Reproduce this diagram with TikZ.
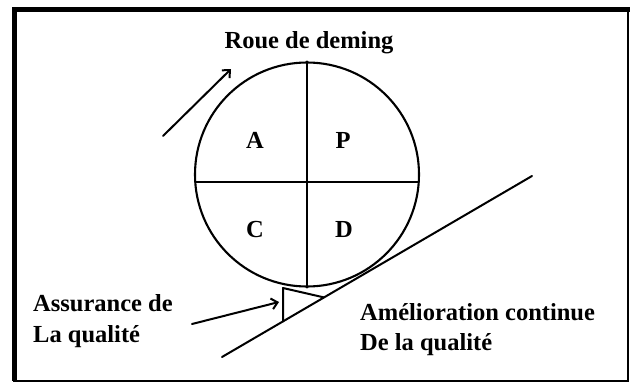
\documentclass[tikz,border=0pt]{standalone}
\usepackage{fontspec}
\setmainfont{Liberation Serif}
\usetikzlibrary{arrows.meta}
\begin{document}
\begin{tikzpicture}[x=1pt,y=-1pt,
  lbl/.style={font=\fontsize{24.5}{30}\selectfont\bfseries, inner sep=0pt},
  ln/.style={line width=2pt, line cap=round, line join=round},
  arr/.style={ln, -{Straight Barb[length=6pt,width=11pt,line width=2pt]}}]
\useasboundingbox (0,0) rectangle (630,383);
% frame
\draw[line width=1.2pt] (14,9) rectangle (628,381);
\draw[line width=5pt] (12,9) -- (630,9);
\draw[line width=5pt] (14.5,9) -- (14.5,381);
% wheel
\coordinate (c) at (307,174.5);
\node[circle, draw, line width=2.1pt, minimum size=224pt, inner sep=0pt] (wheel) at (c) {};
\coordinate (hl) at (195.3,182);
\coordinate (hr) at (418.7,182);
\draw[ln] (hl) -- (hr);
\draw[ln] (wheel.north) -- (wheel.south);
\node[lbl] (A) at (255,140) {A};
\node[lbl] (P) at (343,140) {P};
\node[lbl] (C) at (255,230) {C};
\node[lbl] (D) at (344,230) {D};
\node[lbl, anchor=base] (title) at (309,48) {Roue de deming};
% rotation arrow
\coordinate (r1) at (163,136);
\coordinate (r2) at (231,69);
\draw[arr] (r1) -- (r2);
% slope
\coordinate (s1) at (222,357);
\coordinate (s2) at (532,176);
\draw[ln] (s1) -- (s2);
% wedge
\coordinate (w1) at (283,288);
\coordinate (w2) at (283,321.4);
\coordinate (w3) at (323.9,297.4);
\draw[ln] (w2) -- (w1) -- (w3);
% assurance
\node[lbl, anchor=base west] (as1) at (33,311) {Assurance de};
\node[lbl, anchor=base west] (as2) at (33,342) {La qualité};
\coordinate (a1) at (192,324);
\coordinate (a2) at (279,302);
\draw[arr] (a1) -- (a2);
% amelioration
\node[lbl, anchor=base west] (am1) at (360,320) {Amélioration continue};
\node[lbl, anchor=base west] (am2) at (360,350) {De la qualité};
\end{tikzpicture}
\end{document}
